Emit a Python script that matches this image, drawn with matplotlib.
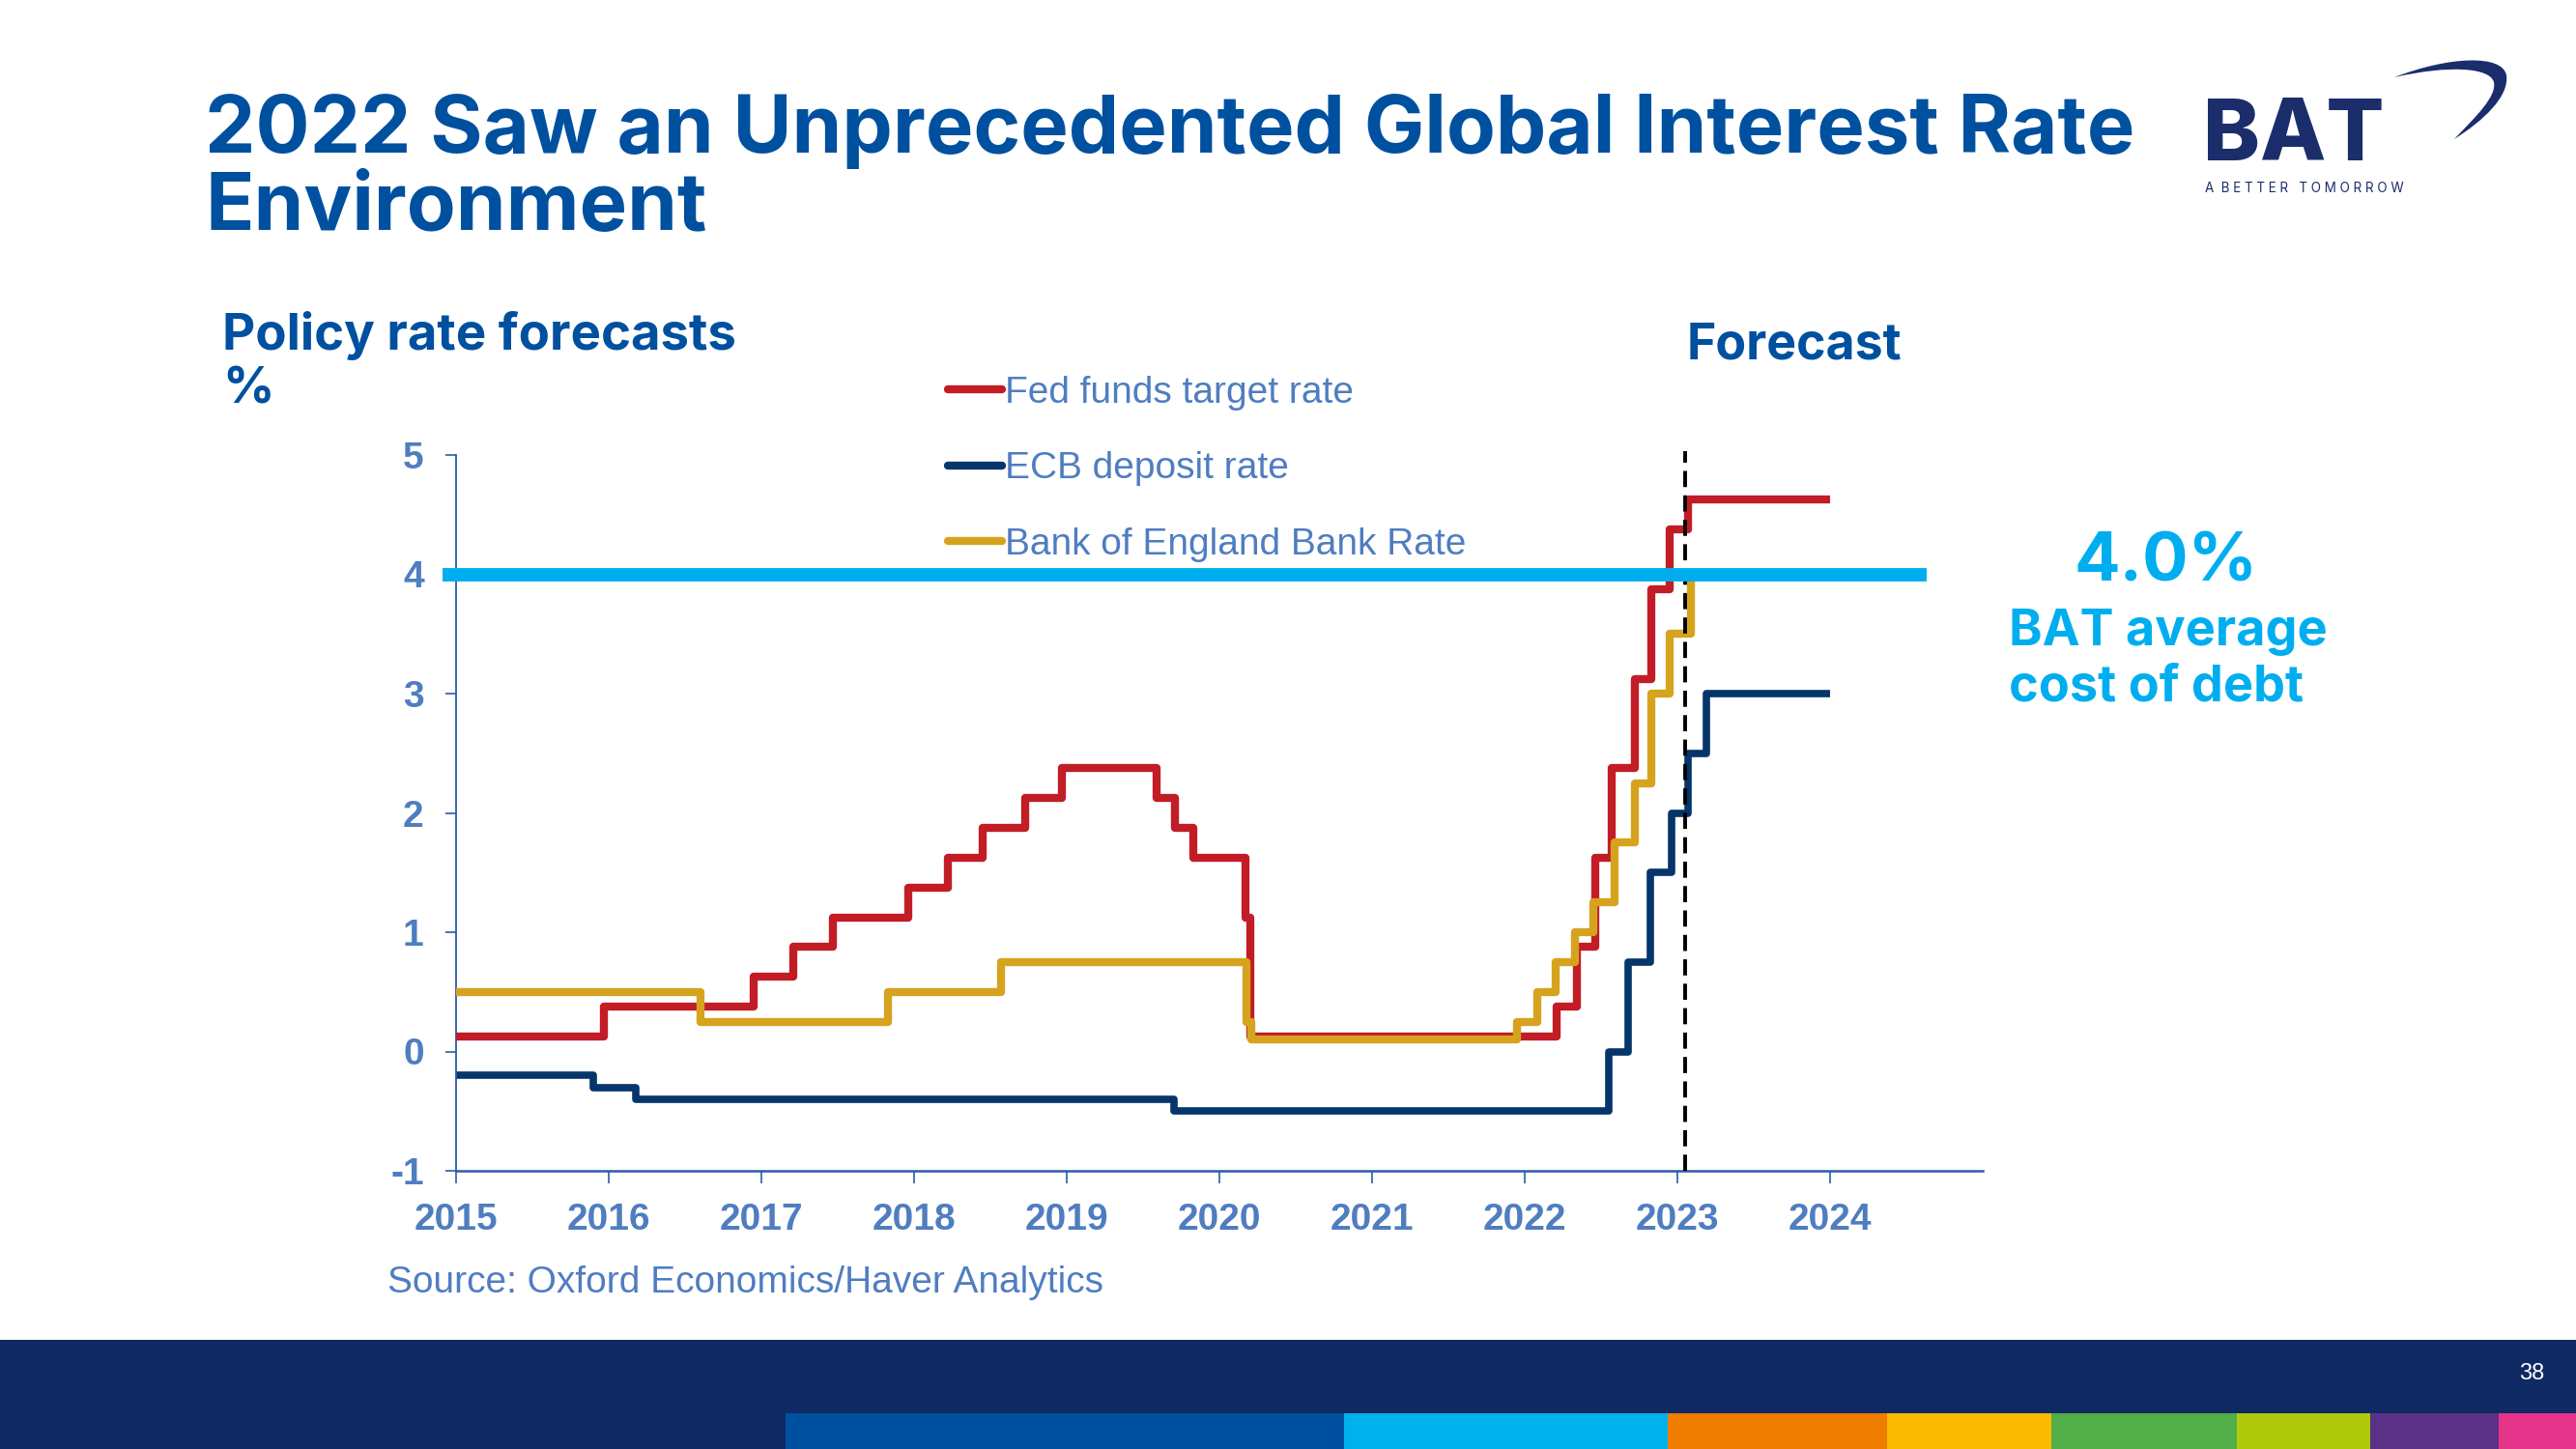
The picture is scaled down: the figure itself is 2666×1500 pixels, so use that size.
import matplotlib
matplotlib.use("Agg")
import matplotlib.pyplot as plt
from matplotlib.patches import Rectangle, PathPatch
from matplotlib.path import Path

# ---------------- data ----------------
x_ticks = [2015, 2016, 2017, 2018, 2019, 2020, 2021, 2022, 2023, 2024]
y_ticks = [-1, 0, 1, 2, 3, 4, 5]

fed_dates = [2015.0, 2015.97, 2016.95, 2017.21, 2017.47, 2017.96, 2018.22, 2018.45, 2018.73,
             2018.97, 2019.59, 2019.71, 2019.83, 2020.17, 2020.2, 2022.21, 2022.34, 2022.46,
             2022.57, 2022.72, 2022.83, 2022.95, 2023.07, 2024.0]
fed_vals = [0.125, 0.375, 0.625, 0.875, 1.125, 1.375, 1.625, 1.875, 2.125,
            2.375, 2.125, 1.875, 1.625, 1.125, 0.125, 0.375, 0.875, 1.625,
            2.375, 3.125, 3.875, 4.375, 4.625, 4.625]

ecb_dates = [2015.0, 2015.9, 2016.18, 2019.7, 2022.55, 2022.68, 2022.82, 2022.96, 2023.07, 2023.19, 2024.0]
ecb_vals = [-0.2, -0.3, -0.4, -0.5, 0.0, 0.75, 1.5, 2.0, 2.5, 3.0, 3.0]

boe_dates = [2015.0, 2016.6, 2017.83, 2018.57, 2020.18, 2020.21, 2021.95, 2022.08, 2022.2,
             2022.33, 2022.45, 2022.59, 2022.72, 2022.83, 2022.95, 2023.09, 2024.0]
boe_vals = [0.5, 0.25, 0.5, 0.75, 0.25, 0.1, 0.25, 0.5, 0.75,
            1.0, 1.25, 1.75, 2.25, 3.0, 3.5, 4.0, 4.0]

series_labels = ["Fed funds target rate", "ECB deposit rate", "Bank of England Bank Rate"]
bat_cost_of_debt = 4.0
forecast_start = 2023.05

# ---------------- styling ----------------
W, H, DPI = 2666, 1500, 100
RED, NAVY, GOLD = "#C21D26", "#06356B", "#D6A31F"
SKY = "#00AEEF"
BATBLUE = "#0050A0"
TICKBLUE = "#4F7DC0"
AXBLUE = "#2A5CA8"
HEAD = ["Inter", "Open Sans", "DejaVu Sans"]
ARIAL = ["Liberation Sans", "DejaVu Sans"]

fig = plt.figure(figsize=(W / DPI, H / DPI), dpi=DPI)
fig.patch.set_facecolor("white")


def fx(px):
    return px / W


def fy(py):
    return 1 - py / H


renderer = fig.canvas.get_renderer()


def fit(t, width_px):
    bb = t.get_window_extent(renderer)
    t.set_fontsize(t.get_fontsize() * width_px / bb.width)
    return t


def two_line(x, y_base1, gap_px, lines, width_px, **kw):
    """One multi-line text whose first baseline sits at y_base1 and whose
    baseline step is gap_px (both in pixels from the top)."""
    t = fig.text(fx(x), fy(y_base1), lines[0], va="baseline", **kw)
    fit(t, width_px)
    h1 = t.get_window_extent(renderer).height
    t.set_text("\n".join(lines[:2]))
    t.set_linespacing(1.0)
    step = t.get_window_extent(renderer).height - h1
    t.set_linespacing(gap_px / step)
    t.set_text("\n".join(lines))
    # va="baseline" anchors the last line, so shift to keep the first baseline
    t.set_y(fy(y_base1 + gap_px * (len(lines) - 1)))
    return t


# ---------------- axes ----------------
ax = fig.add_axes([fx(472), fy(1212), fx(2052) - fx(472), fy(471) - fy(1212)])
ax.set_xlim(2015, 2025)
ax.set_ylim(-1, 5)
for s in ["top", "right"]:
    ax.spines[s].set_visible(False)
ax.spines["left"].set_color(AXBLUE)
ax.spines["left"].set_linewidth(1.3)
ax.spines["bottom"].set_color(AXBLUE)
ax.spines["bottom"].set_linewidth(1.8)

ax.step(fed_dates, fed_vals, where="post", color=RED, lw=6, zorder=3,
        solid_capstyle="butt", label=series_labels[0])
ax.step(ecb_dates, ecb_vals, where="post", color=NAVY, lw=5.5, zorder=2.5,
        solid_capstyle="butt", label=series_labels[1])
ax.step(boe_dates, boe_vals, where="post", color=GOLD, lw=6, zorder=3.2,
        solid_capstyle="butt", label=series_labels[2])

ax.axvline(forecast_start, ymin=0, ymax=1.005, color="black", lw=2.8,
           dashes=(4.3, 2.2), zorder=4, clip_on=False)
ax.axhline(bat_cost_of_debt, xmin=-0.009, xmax=0.963, color=SKY, lw=10,
           solid_capstyle="butt", zorder=5, clip_on=False)

ax.set_xticks(x_ticks)
ax.set_xticklabels([str(v) for v in x_ticks])
ax.set_yticks(y_ticks)
ax.set_yticklabels([str(v) for v in y_ticks])
ax.tick_params(axis="x", direction="out", length=9, width=1.2, color=AXBLUE, pad=15,
               labelsize=28, labelcolor=TICKBLUE)
ax.tick_params(axis="y", direction="out", length=8, width=1.2, color=AXBLUE, pad=16,
               labelsize=28, labelcolor=TICKBLUE)
for lab in ax.get_xticklabels() + ax.get_yticklabels():
    lab.set_fontfamily(ARIAL)
    lab.set_fontweight("bold")

# legend
h_fed = plt.Line2D([], [], color=RED, lw=6, solid_capstyle="round")
h_ecb = plt.Line2D([], [], color=NAVY, lw=6, solid_capstyle="round")
h_boe = plt.Line2D([], [], color=GOLD, lw=6, solid_capstyle="round")
leg = fig.legend([h_fed, h_ecb, h_boe], series_labels, loc="upper left",
                 bbox_to_anchor=(fx(981), fy(389)), frameon=False,
                 prop={"family": ARIAL, "size": 28}, handlelength=1.45,
                 handletextpad=0.08, labelspacing=1.09, borderpad=0, borderaxespad=0)
for t in leg.get_texts():
    t.set_color(TICKBLUE)

# ---------------- texts ----------------
two_line(212, 158, 80, ["2022 Saw an Unprecedented Global Interest Rate", "Environment"],
         1998, color=BATBLUE, fontweight="bold", family=HEAD, fontsize=60)

two_line(230, 360, 58, ["Policy rate forecasts", "%"], 532,
         color=BATBLUE, fontweight="bold", family=HEAD, fontsize=34)

t4 = fig.text(fx(1746), fy(371), "Forecast", color=BATBLUE, fontweight="bold", family=HEAD,
              fontsize=34, va="baseline")
fit(t4, 223)

t5 = fig.text(fx(2147), fy(601), "4.0%", color=SKY, fontweight="bold", family=HEAD,
              fontsize=50, va="baseline")
fit(t5, 190)
two_line(2079, 666, 60, ["BAT average", "cost of debt"], 330,
         color=SKY, fontweight="bold", family=HEAD, fontsize=34)

t7 = fig.text(fx(401), fy(1338), "Source: Oxford Economics/Haver Analytics", color=TICKBLUE,
              family=ARIAL, fontsize=28, va="baseline")
fit(t7, 741)

# ---------------- logo ----------------
LOGO = "#1B2D6B"
fig.text(fx(2280), fy(166), "BAT", color=LOGO, fontweight="heavy", family=HEAD,
         fontsize=64, va="baseline")
tt = fig.text(fx(2282), fy(199), "A  B E T T E R   T O M O R R O W", color=LOGO,
              family=HEAD, fontsize=9, va="baseline")
fit(tt, 208)

sw = [(2478, 80), (2535, 58), (2590, 56), (2594, 78), (2597, 100), (2570, 125), (2540, 144),
      (2563, 120), (2584, 100), (2581, 85), (2577, 70), (2535, 67), (2478, 80)]
codes = [Path.MOVETO] + [Path.CURVE4] * 12
verts = [(fx(a), fy(b)) for a, b in sw]
fig.patches.append(PathPatch(Path(verts, codes), transform=fig.transFigure,
                             facecolor=LOGO, edgecolor="none"))

# ---------------- footer ----------------
fig.patches.append(Rectangle((0, 0), 1, (H - 1387) / H, transform=fig.transFigure,
                             facecolor="#0F2A62", edgecolor="none", zorder=0))
stripe_edges = [813, 1391, 1726, 1953, 2123, 2315, 2453, 2586, 2666]
stripe_cols = ["#0050A0", "#00B1EB", "#EF7D00", "#FBBA00", "#52AE47", "#AFCA0B",
               "#5B3187", "#E6338A"]
for i, c in enumerate(stripe_cols):
    fig.patches.append(Rectangle((fx(stripe_edges[i]), 0), fx(stripe_edges[i + 1]) - fx(stripe_edges[i]),
                                 (H - 1463) / H, transform=fig.transFigure,
                                 facecolor=c, edgecolor="none", zorder=1))
fig.text(fx(2620), fy(1422), "38", color="white", family=ARIAL, fontsize=17,
         ha="center", va="center")

fig.savefig("out.png", dpi=DPI)
